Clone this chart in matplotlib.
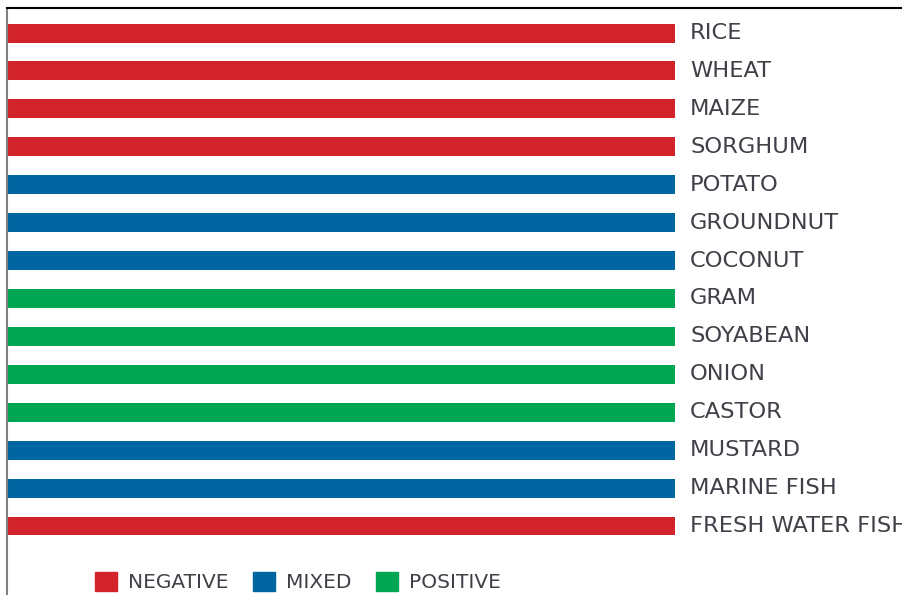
import matplotlib.pyplot as plt
from matplotlib.patches import Patch

# crops and the sign of their projected impact
crops = ["RICE", "WHEAT", "MAIZE", "SORGHUM", "POTATO", "GROUNDNUT", "COCONUT",
         "GRAM", "SOYABEAN", "ONION", "CASTOR", "MUSTARD", "MARINE FISH",
         "FRESH WATER FISH"]
impact = ["NEGATIVE", "NEGATIVE", "NEGATIVE", "NEGATIVE", "MIXED", "MIXED", "MIXED",
          "POSITIVE", "POSITIVE", "POSITIVE", "POSITIVE", "MIXED", "MIXED",
          "NEGATIVE"]
bar_len = [1] * len(crops)

colors = {"NEGATIVE": "#D2232A", "MIXED": "#0066A1", "POSITIVE": "#00A651"}

fig = plt.figure(figsize=(9.03, 5.95), dpi=100)
ax = fig.add_axes([7 / 903, 0, 896 / 903, 1 - 8 / 595])

ypos = list(range(len(crops)))
ax.barh(ypos, bar_len, height=0.5, color=[colors[i] for i in impact], align="center")

for y, name in zip(ypos, crops):
    ax.text(1.0225, y, name, va="center", ha="left", fontsize=16.2,
            color="#404048", clip_on=False)

ax.set_xlim(0, 896 / 668)
ax.set_ylim(len(crops) - 1 + 1.82, -0.66)
ax.set_xticks([])
ax.set_yticks([])
ax.spines["right"].set_visible(False)
ax.spines["bottom"].set_visible(False)
ax.spines["top"].set_color("black")
ax.spines["top"].set_linewidth(1.5)
ax.spines["left"].set_color("#808080")
ax.spines["left"].set_linewidth(1.5)

handles = [Patch(color=colors[k], label=k) for k in ["NEGATIVE", "MIXED", "POSITIVE"]]
leg = fig.legend(handles=handles, loc="center", bbox_to_anchor=(298 / 903, 1 - 582 / 595),
                 ncol=3, frameon=False, fontsize=14.5, handlelength=1.1,
                 handleheight=1.1, handletextpad=0.55, columnspacing=1.2)
for t in leg.get_texts():
    t.set_color("#404048")

fig.savefig("out.png", dpi=100)
